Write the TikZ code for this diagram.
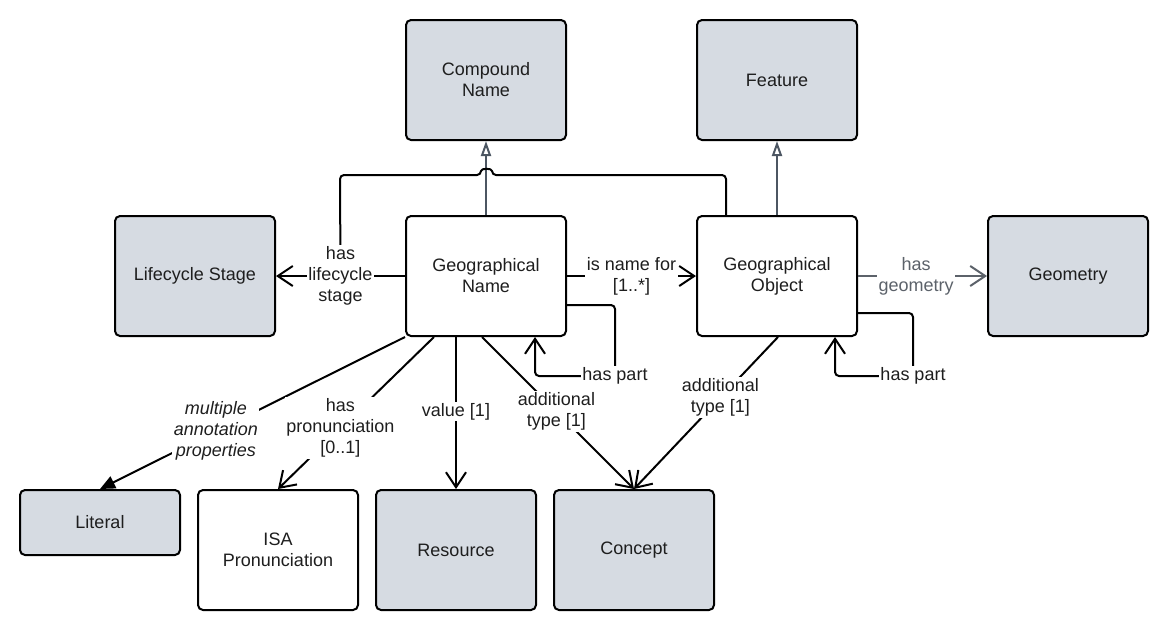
\documentclass[tikz,border=0pt]{standalone}
\usepackage{fontspec}
\setmainfont{Liberation Sans}
\usetikzlibrary{arrows.meta,calc}
\definecolor{boxgray}{RGB}{214,219,226}
\definecolor{gengray}{RGB}{76,86,98}
\definecolor{geogray}{RGB}{92,98,106}
\definecolor{txtgray}{RGB}{30,30,30}

\tikzset{
  classbox/.style={draw, line width=2pt, rounded corners=5pt, fill=boxgray,
    minimum width=160pt, minimum height=120pt, align=center, text=txtgray,
    font=\fontsize{18}{21}\selectfont},
  plainbox/.style={classbox, fill=white},
  rel/.style={line width=2pt, -{Straight Barb[length=15pt,width=20pt]}},
  gen/.style={line width=2pt, draw=gengray, -{Triangle[open,fill=white,length=15pt,width=10pt]}},
  lbl/.style={fill=white, align=center, inner sep=1.5pt, text=txtgray,
    font=\fontsize{18}{21}\selectfont}
}

\begin{document}
\begin{tikzpicture}[x=1pt, y=-1pt]

  \useasboundingbox (0,0) rectangle (1169,630);

  % Classes
  \node[classbox] (cn)  at (486,80)  {Compound\\Name};
  \node[classbox] (feat) at (777,80) {Feature};
  \node[classbox] (lc)  at (195,276) {Lifecycle Stage};
  \node[plainbox] (gn)  at (486,276) {Geographical\\Name};
  \node[plainbox] (go)  at (777,276) {Geographical\\Object};
  \node[classbox] (geo) at (1068,276) {Geometry};
  \node[classbox, minimum height=65pt] (lit) at (100,522.5) {Literal};
  \node[plainbox] (isa) at (278,550) {ISA\\Pronunciation};
  \node[classbox] (res) at (456,550) {Resource};
  \node[classbox] (con) at (634,550) {Concept};

  % Generalisations
  \draw[gen] (gn.north) -- (cn.south);
  \draw[gen] (go.north) -- (feat.south);

  % Lifecycle stage (from both)
  \coordinate (lcjoin) at ($(gn.west)!0.5!(lc.east)$);
  \draw[line width=2pt, rounded corners=4pt] ([xshift=-51pt]go.north) |- (492,175)
    .. controls (492,168) and (481,168) .. (481,175) -- (340,175) -- (lcjoin);
  \draw[rel] (gn.west) -- (lc.east) node[lbl, midway] {has\\lifecycle\\stage};

  % Name for object
  \draw[rel] (gn.east) -- (go.west) node[lbl, midway] {is name for\\{}[1..*]};

  % Geometry
  \draw[rel, draw=geogray] (go.east) -- (geo.west)
    node[lbl, pos=0.45, text=geogray] {has\\geometry};

  % Has part loops
  \coordinate (gnpart) at (615,376);
  \coordinate (gopart) at (913,376);
  \draw[rel, rounded corners=4pt] ([yshift=-29pt]gn.east) -| (gnpart) -| ([xshift=49pt]gn.south);
  \node[lbl] (gnpartlbl) at (gnpart) {has part};
  \draw[rel, rounded corners=4pt] ([yshift=-37pt]go.east) -| (gopart) -| ([xshift=58pt]go.south);
  \node[lbl] (gopartlbl) at (gopart) {has part};

  % Properties of the name
  \draw[line width=2pt, -{Triangle[length=15pt,width=13pt]}] (gn.south west) -- (lit.north)
    node[lbl, pos=0.62, font=\fontsize{18}{21}\selectfont\itshape] {multiple\\annotation\\properties};
  \draw[rel] ([xshift=-52pt]gn.south) -- (isa.north)
    node[lbl, pos=0.6] {has\\pronunciation\\{}[0..1]};
  \draw[rel] ([xshift=-30pt]gn.south) -- (res.north)
    node[lbl, pos=0.49] {value [1]};
  \draw[rel] ([xshift=-4pt]gn.south) -- (con.north)
    node[lbl, pos=0.49] {additional\\type [1]};
  \draw[rel] ([xshift=1pt]go.south) -- (con.north)
    node[lbl, pos=0.4] {additional\\type [1]};

\end{tikzpicture}
\end{document}
